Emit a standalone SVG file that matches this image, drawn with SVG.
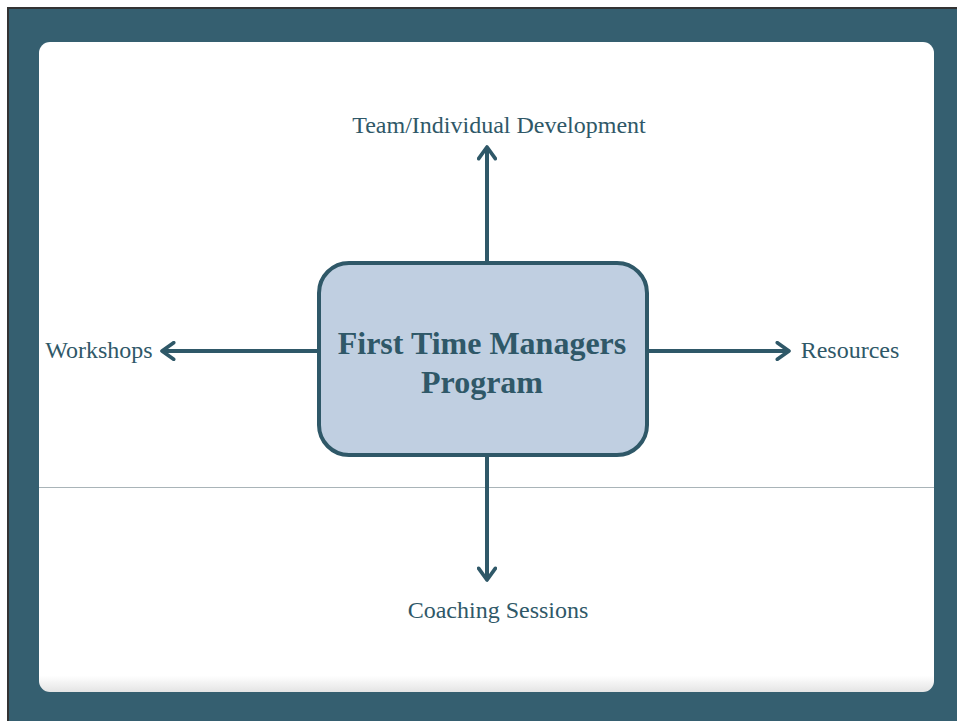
<svg xmlns="http://www.w3.org/2000/svg" width="957" height="721" viewBox="0 0 957 721">
  <defs>
    <linearGradient id="cardShade" x1="0" y1="0" x2="0" y2="1">
      <stop offset="0" stop-color="#ffffff"/>
      <stop offset="0.975" stop-color="#ffffff"/>
      <stop offset="1" stop-color="#e4e4e4"/>
    </linearGradient>
    <marker id="chevron" viewBox="0 0 12 12" refX="9" refY="6" markerWidth="5" markerHeight="5" orient="auto" markerUnits="strokeWidth">
      <path d="M2,1 L9,6 L2,11" fill="none" stroke="#2f5868" stroke-width="2.2" stroke-linecap="round" stroke-linejoin="round"/>
    </marker>
    <style>
      .label { font-family: "Liberation Serif", "Times New Roman", serif; font-size: 24px; fill: #2f5868; }
      .title { font-family: "Liberation Serif", "Times New Roman", serif; font-size: 32px; font-weight: bold; fill: #2f5868; }
      .conn { stroke: #2f5868; stroke-width: 4; fill: none; marker-end: url(#chevron); }
    </style>
  </defs>

  <!-- frame -->
  <rect x="0" y="0" width="957" height="721" fill="#ffffff"/>
  <rect x="8" y="8" width="960" height="720" fill="#355f70" stroke="#333333" stroke-width="2"/>
  <rect x="39" y="42" width="895" height="650" rx="11" fill="url(#cardShade)"/>
  <line x1="39" y1="487.5" x2="934" y2="487.5" stroke="#a9b4b8" stroke-width="1"/>

  <!-- connectors -->
  <g id="connectors">
    <line class="conn" x1="487" y1="262" x2="487" y2="147"/>
    <line class="conn" x1="318" y1="351" x2="162" y2="351"/>
    <line class="conn" x1="648" y1="351" x2="789" y2="351"/>
    <line class="conn" x1="487" y1="456" x2="487" y2="580"/>
  </g>

  <g id="center">
    <rect x="319" y="263" width="328" height="192" rx="30" fill="#c0cfe1" stroke="#2f5868" stroke-width="4"/>
    <text class="title" x="482" y="354" text-anchor="middle">First Time Managers</text>
    <text class="title" x="482" y="393" text-anchor="middle">Program</text>
  </g>

  <g id="team-development">
    <text class="label" x="499" y="133" text-anchor="middle">Team/Individual Development</text>
  </g>
  <g id="workshops">
    <text class="label" x="99" y="358" text-anchor="middle">Workshops</text>
  </g>
  <g id="resources">
    <text class="label" x="850" y="358" text-anchor="middle">Resources</text>
  </g>
  <g id="coaching-sessions">
    <text class="label" x="498" y="618" text-anchor="middle">Coaching Sessions</text>
  </g>
</svg>
